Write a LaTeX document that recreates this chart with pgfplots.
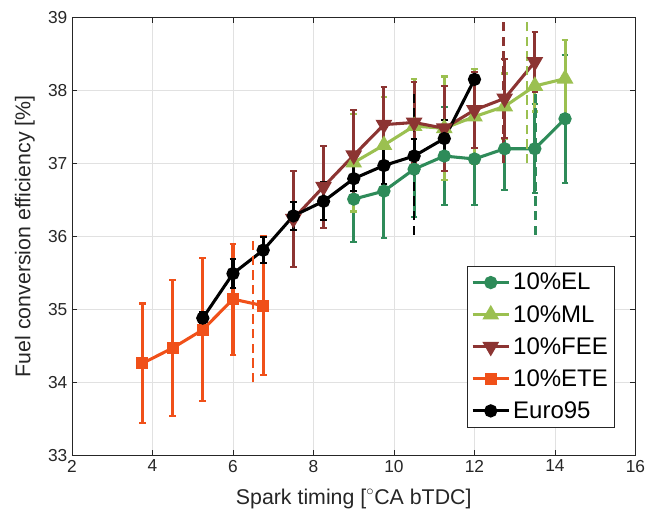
\documentclass[border=0pt]{standalone}
\usepackage{pgfplots}
\pgfplotsset{compat=1.18}
\usepackage{fontspec}
\setmainfont{Liberation Sans}

\definecolor{cEL}{RGB}{46,139,89}
\definecolor{cML}{RGB}{155,192,80}
\definecolor{cFEE}{RGB}{140,52,50}
\definecolor{cETE}{RGB}{240,80,25}
\definecolor{axgray}{RGB}{38,38,38}
\definecolor{gridgray}{RGB}{225,225,225}

\begin{document}
\begin{tikzpicture}[x=1pt,y=1pt]
\useasboundingbox (-54pt,-44.8pt) rectangle (431.25pt,341.5pt);
\begin{axis}[
  at={(0,0)}, anchor=south west,
  scale only axis,
  width=422.6pt, height=328.5pt,
  xmin=2, xmax=16, ymin=33, ymax=39,
  xtick={2,4,...,16}, ytick={33,34,...,39},
  grid=major,
  major grid style={gridgray, line width=0.6pt},
  axis line style={axgray, line width=0.6pt},
  tick style={axgray, line width=0.6pt},
  tick align=inside,
  major tick length=4pt,
  xtick pos=both, ytick pos=both,
  /pgf/number format/assume math mode=true,
  tick label style={font=\fontsize{13}{15}\selectfont, text=axgray},
  xlabel={Spark timing [$^{\circ}$CA bTDC]},
  ylabel={Fuel conversion efficiency [\%]},
  label style={font=\fontsize{16}{18}\selectfont, text=axgray},
  xlabel style={yshift=-5.5pt},
  ylabel style={yshift=3pt},
  every axis plot/.append style={line width=2.3pt},
  error bars/error bar style={line width=2.3pt},
  error bars/error mark options={line width=1.6pt, mark size=2.5pt, rotate=90},
  legend cell align=left,
  legend style={at={(0.9636,0.0639)}, anchor=south east,
    font=\fontsize{18}{22}\selectfont, draw=axgray, line width=0.6pt,
    row sep=6pt, inner sep=3pt},
  legend image post style={line width=2.3pt},
  legend image code/.code={
    \draw[mark repeat=2,mark phase=2]
      plot coordinates {(0cm,0cm) (0.48cm,0cm) (0.96cm,0cm)};
  },
]
% 10%EL
\addplot+[cEL, solid, mark=*, mark size=3.8pt, mark options={solid, fill=cEL},
  error bars/.cd, y dir=both, y explicit]
  coordinates {
  (9.00,36.51) +- (0,0.59)
  (9.75,36.62) +- (0,0.64)
  (10.50,36.92) +- (0,0.65)
  (11.25,37.10) +- (0,0.67)
  (12.00,37.06) +- (0,0.63)
  (12.75,37.20) +- (0,0.57)
  (13.50,37.20) +- (0,0.61)
  (14.25,37.61) +- (0,0.88)
  };
\addlegendentry{10\%EL}
% 10%ML
\addplot+[cML, solid, mark=triangle*, mark size=5pt, mark options={solid, fill=cML},
  error bars/.cd, y dir=both, y explicit]
  coordinates {
  (9.00,37.01) +- (0,0.67)
  (9.75,37.25) +- (0,0.66)
  (10.50,37.51) +- (0,0.64)
  (11.25,37.48) +- (0,0.71)
  (12.00,37.64) +- (0,0.65)
  (12.75,37.78) +- (0,0.45)
  (13.50,38.06) +- (0,0.35)
  (14.25,38.16) +- (0,0.53)
  };
\addlegendentry{10\%ML}
% 10%FEE
\addplot+[cFEE, solid, mark=triangle*, mark size=5pt, mark options={solid, fill=cFEE, rotate=180},
  error bars/.cd, y dir=both, y explicit]
  coordinates {
  (7.50,36.24) +- (0,0.66)
  (8.25,36.68) +- (0,0.56)
  (9.00,37.11) +- (0,0.62)
  (9.75,37.53) +- (0,0.51)
  (10.50,37.56) +- (0,0.56)
  (11.25,37.48) +- (0,0.58)
  (12.00,37.73) +- (0,0.52)
  (12.75,37.89) +- (0,0.54)
  (13.50,38.39) +- (0,0.41)
  };
\addlegendentry{10\%FEE}
% 10%ETE
\addplot+[cETE, solid, mark=square*, mark size=3.3pt, mark options={solid, fill=cETE},
  error bars/.cd, y dir=both, y explicit]
  coordinates {
  (3.75,34.26) +- (0,0.82)
  (4.50,34.47) +- (0,0.93)
  (5.25,34.72) +- (0,0.98)
  (6.00,35.14) +- (0,0.76)
  (6.75,35.05) +- (0,0.95)
  };
\addlegendentry{10\%ETE}
% Euro95
\addplot+[black, solid, mark=*, mark size=3.8pt, mark options={solid, fill=black},
  error bars/.cd, y dir=both, y explicit]
  coordinates {
  (5.25,34.88) +- (0,0.08)
  (6.00,35.49) +- (0,0.20)
  (6.75,35.81) +- (0,0.18)
  (7.50,36.28) +- (0,0.19)
  (8.25,36.48) +- (0,0.26)
  (9.00,36.79) +- (0,0.17)
  (9.75,36.97) +- (0,0.25)
  (10.50,37.10) +- (0,0.23)
  (11.25,37.34) +- (0,0.25)
  (12.00,38.15) +- (0,0.00)
  };
\addlegendentry{Euro95}
% dashed vertical markers
\addplot[cETE, dashed, line width=1.8pt, dash pattern=on 7pt off 4pt, forget plot]
  coordinates {(6.50,34.00) (6.50,35.95)};
\addplot[black, dashed, line width=1.8pt, dash pattern=on 7pt off 4pt, forget plot]
  coordinates {(10.50,36.02) (10.50,37.95)};
\addplot[cFEE, dashed, line width=1.8pt, dash pattern=on 7pt off 4pt, forget plot]
  coordinates {(12.72,37.00) (12.72,38.95)};
\addplot[cML, dashed, line width=1.8pt, dash pattern=on 7pt off 4pt, forget plot]
  coordinates {(13.31,37.00) (13.31,38.95)};
\addplot[cEL, dashed, line width=1.8pt, dash pattern=on 7pt off 4pt, forget plot]
  coordinates {(13.52,36.02) (13.52,38.00)};
\end{axis}
\end{tikzpicture}
\end{document}
